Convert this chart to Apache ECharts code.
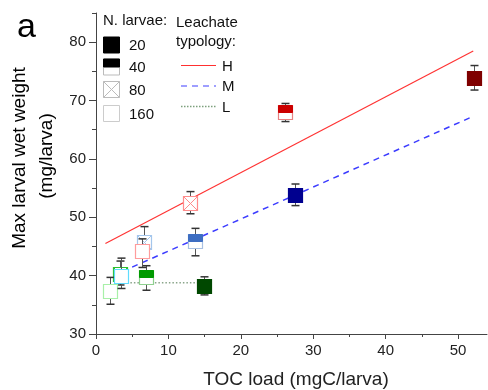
<!DOCTYPE html>
<html><head><meta charset="utf-8">
<script src="https://cdn.jsdelivr.net/npm/echarts@6/dist/echarts.min.js"></script>
<style>html,body{margin:0;padding:0;background:#fff}#c{width:488px;height:390px}</style>
</head><body><div id="c"></div>
<script>
// ---- axis ticks ----
const xTicks = [0, 10, 20, 30, 40, 50];
const xMinor = [5, 15, 25, 35, 45];
const yTicks = [30, 40, 50, 60, 70, 80];
const yMinor = [35, 45, 55, 65, 75, 85];
const larvaeLevels = ['20', '40', '80', '160'];
const typologies = ['H', 'M', 'L'];

// ---- H (red) : order of larvae levels 20, 40, 80, 160 ----
const hX  = [52.2, 26.1, 13.0, 6.3];
const hY  = [73.9, 68.0, 52.5, 44.3];
const hLo = [71.8, 66.4, 50.6, 41.4];
const hHi = [76.0, 69.5, 54.4, 46.3];
// ---- M (blue) ----
const mX  = [27.5, 13.7, 6.6, 3.5];
const mY  = [53.9, 46.0, 45.7, 40.0];
const mLo = [52.0, 43.4, 43.3, 37.8];
const mHi = [55.7, 48.1, 48.4, 43.0];
// ---- L (green) ----
const lX  = [14.9, 6.9, 3.3, 1.9];
const lY  = [38.2, 39.7, 40.2, 37.4];
const lLo = [36.7, 37.5, 38.4, 35.1];
const lHi = [39.8, 41.7, 42.5, 39.7];

// ---- fitted lines ----
const hLineX = [1.3, 52.1], hLineY = [45.5, 78.5];
const mLineX = [3.6, 52.1], mLineY = [40.7, 67.3];
const lLineX = [3.3, 14.9], lLineY = [38.8, 38.8];

const FONT = '"Liberation Sans", Arial, sans-serif';

function boxSeries(name, xs, ys, los, his, fills, strokes, z) {
  const data = xs.map((x, i) => [x, ys[i], los[i], his[i], i]);
  return {
    type: 'custom', name, data, z,
    xAxisIndex: 0, yAxisIndex: 0,
    renderItem: (params, api) => {
      const x = api.value(0), y = api.value(1), lo = api.value(2), hi = api.value(3), k = api.value(4);
      const c = api.coord([x, y]), cl = api.coord([x, lo]), ch = api.coord([x, hi]);
      const s = 14, h = s / 2, cap = 4;
      const cx = Math.round(c[0]) + 0.5, cy = Math.round(c[1]) + 0.5;
      const ch_ = [];
      ch_.push({ type: 'line', shape: { x1: cx, y1: cl[1], x2: cx, y2: ch[1] }, style: { stroke: '#555', lineWidth: 1 } });
      ch_.push({ type: 'line', shape: { x1: cx - cap, y1: cl[1], x2: cx + cap, y2: cl[1] }, style: { stroke: '#333', lineWidth: 1.5 } });
      ch_.push({ type: 'line', shape: { x1: cx - cap, y1: ch[1], x2: cx + cap, y2: ch[1] }, style: { stroke: '#333', lineWidth: 1.5 } });
      ch_.push({ type: 'rect', shape: { x: cx - h, y: cy - h, width: s, height: s },
        style: { fill: k === 0 ? fills[0] : '#fff', stroke: strokes[k], lineWidth: 1.2 } });
      if (k === 1) {
        ch_.push({ type: 'rect', shape: { x: cx - h, y: cy - h, width: s, height: s / 2 },
          style: { fill: fills[1], stroke: fills[1], lineWidth: 1 } });
      }
      if (k === 2) {
        ch_.push({ type: 'line', shape: { x1: cx - h, y1: cy - h, x2: cx + h, y2: cy + h }, style: { stroke: strokes[2], lineWidth: 1 } });
        ch_.push({ type: 'line', shape: { x1: cx - h, y1: cy + h, x2: cx + h, y2: cy - h }, style: { stroke: strokes[2], lineWidth: 1 } });
      }
      return { type: 'group', children: ch_ };
    }
  };
}

function lineSeries(name, xs, ys, color, type, width, z) {
  return {
    type: 'line', name, data: xs.map((x, i) => [x, ys[i]]), z,
    xAxisIndex: 0, yAxisIndex: 0,
    symbol: 'none', silent: true, animation: false,
    lineStyle: { color, type, width }
  };
}

const chart = echarts.init(document.getElementById('c'), null, { renderer: 'canvas' });

const legendG = [];
// N. larvae legend
legendG.push({ type: 'text', left: 103, top: 13, style: { text: 'N. larvae:', font: '15px ' + FONT, fill: '#111' } });
const legY = [45, 67, 89.5, 113.5];
const sym = 16;
larvaeLevels.forEach((lab, i) => {
  const y0 = legY[i] - sym / 2;
  if (i === 0) legendG.push({ type: 'rect', shape: { x: 103.5, y: y0, width: sym, height: sym }, style: { fill: '#000', stroke: '#000' } });
  if (i === 1) {
    legendG.push({ type: 'rect', shape: { x: 103.5, y: y0, width: sym, height: sym }, style: { fill: '#fff', stroke: '#bbb' } });
    legendG.push({ type: 'rect', shape: { x: 103.5, y: y0, width: sym, height: sym / 2 }, style: { fill: '#000', stroke: '#000' } });
  }
  if (i === 2) {
    legendG.push({ type: 'rect', shape: { x: 103.5, y: y0, width: sym, height: sym }, style: { fill: '#fff', stroke: '#bbb' } });
    legendG.push({ type: 'line', shape: { x1: 103.5, y1: y0, x2: 103.5 + sym, y2: y0 + sym }, style: { stroke: '#bbb' } });
    legendG.push({ type: 'line', shape: { x1: 103.5, y1: y0 + sym, x2: 103.5 + sym, y2: y0 }, style: { stroke: '#bbb' } });
  }
  if (i === 3) legendG.push({ type: 'rect', shape: { x: 103.5, y: y0, width: sym, height: sym }, style: { fill: '#fff', stroke: '#ccc' } });
  legendG.push({ type: 'text', x: 129, y: legY[i] + 1, style: { text: lab, font: '15px ' + FONT, fill: '#111', verticalAlign: 'middle' } });
});
// Leachate typology legend
legendG.push({ type: 'text', left: 176, top: 13, style: { text: 'Leachate\ntypology:', font: '15px ' + FONT, fill: '#111', lineHeight: 19 } });
const tyY = [65.5, 86, 106.5];
const tyStyle = [
  { stroke: '#ff3030', lineWidth: 1 },
  { stroke: '#7f7fff', lineWidth: 1.5, lineDash: [6, 5] },
  { stroke: '#7da07d', lineWidth: 1.5, lineDash: [1.5, 1.5] }
];
typologies.forEach((t, i) => {
  legendG.push({ type: 'line', shape: { x1: 181, y1: tyY[i], x2: 216, y2: tyY[i] }, style: tyStyle[i] });
  legendG.push({ type: 'text', x: 222, y: tyY[i] + 1, style: { text: t, font: '15px ' + FONT, fill: '#111', verticalAlign: 'middle' } });
});

chart.setOption({
  animation: false,
  backgroundColor: '#fff',
  textStyle: { fontFamily: FONT },
  grid: { left: 96, right: 1, top: 13, bottom: 56, containLabel: false },
  xAxis: [
    {
      type: 'value', min: 0, max: 54, interval: 10,
      axisLine: { show: true, lineStyle: { color: '#444', width: 1 } },
      axisTick: { show: true, length: 5, customValues: xTicks, lineStyle: { color: '#444' } },
      axisLabel: { show: true, customValues: xTicks, fontSize: 15, color: '#222', margin: 9, fontFamily: FONT },
      splitLine: { show: false }
    },
    {
      type: 'value', min: 0, max: 54, interval: 10, position: 'bottom',
      axisLine: { show: false },
      axisTick: { show: true, length: 3, customValues: xMinor, lineStyle: { color: '#444' } },
      axisLabel: { show: false },
      splitLine: { show: false }
    }
  ],
  yAxis: [
    {
      type: 'value', min: 30, max: 85, interval: 10,
      axisLine: { show: true, lineStyle: { color: '#444', width: 1 } },
      axisTick: { show: true, length: 7, customValues: yTicks, lineStyle: { color: '#444' } },
      axisLabel: { show: true, customValues: yTicks, fontSize: 15, color: '#222', margin: 10, fontFamily: FONT },
      splitLine: { show: false }
    },
    {
      type: 'value', min: 30, max: 85, interval: 10, position: 'left',
      axisLine: { show: false },
      axisTick: { show: true, length: 4, customValues: yMinor, lineStyle: { color: '#444' } },
      axisLabel: { show: false },
      splitLine: { show: false }
    }
  ],
  graphic: [
    { type: 'text', x: 26.5, y: 28, style: { text: 'a', font: '34px ' + FONT, fill: '#000', align: 'center', verticalAlign: 'middle' } },
    { type: 'text', x: 20, y: 158, rotation: Math.PI / 2, style: { text: 'Max larval wet weight', font: '19px ' + FONT, fill: '#000', align: 'center', verticalAlign: 'middle' } },
    { type: 'text', x: 46.5, y: 156, rotation: Math.PI / 2, style: { text: '(mg/larva)', font: '19px ' + FONT, fill: '#000', align: 'center', verticalAlign: 'middle' } },
    { type: 'text', x: 296, y: 380, style: { text: 'TOC load (mgC/larva)', font: '19px ' + FONT, fill: '#222', align: 'center', verticalAlign: 'middle' } },
    ...legendG
  ],
  series: [
    lineSeries('L fit', lLineX, lLineY, '#8aa58a', [1.5, 2], 1.5, 1),
    lineSeries('M fit', mLineX, mLineY, '#3c3cff', [6, 5], 1.5, 1),
    lineSeries('H fit', hLineX, hLineY, '#ff3333', 'solid', 1.2, 1),
    boxSeries('L', lX, lY, lLo, lHi, ['#004800', '#009a00'], ['#004800', '#8fd08f', '#2fc02f', '#a8f0a8'], 2),
    boxSeries('M', mX, mY, mLo, mHi, ['#00008f', '#3e6ec2'], ['#00008f', '#a8c0e2', '#a4c6ec', '#5fdcff'], 3),
    boxSeries('H', hX, hY, hLo, hHi, ['#7f0000', '#cc0000'], ['#7f0000', '#e88080', '#ff8c8c', '#ff9c9c'], 4)
  ]
});
</script>
</body></html>
